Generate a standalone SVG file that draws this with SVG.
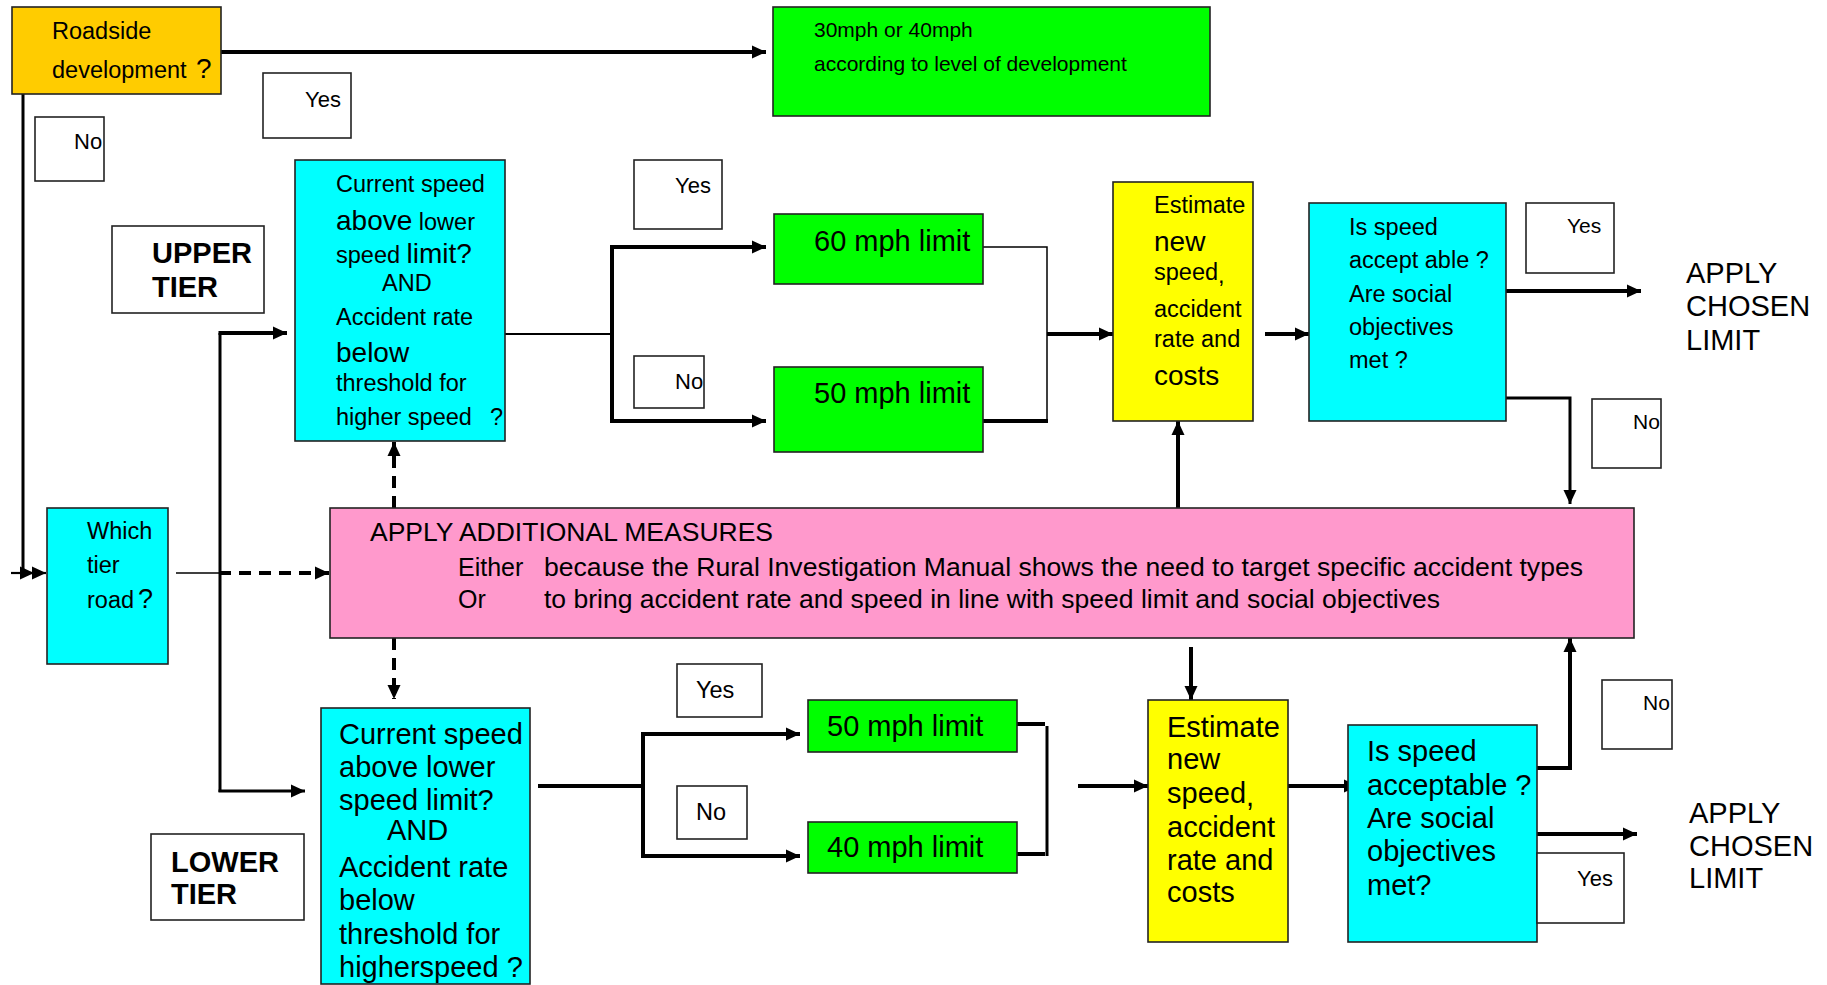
<svg xmlns="http://www.w3.org/2000/svg" width="1827" height="985" viewBox="0 0 1827 985">
<defs>
<marker id="ah" markerUnits="userSpaceOnUse" markerWidth="14" markerHeight="14" refX="14" refY="7" orient="auto"><path d="M0,0.5 L14,7 L0,13.5 z" fill="#000"/></marker>
<style>
text{font-family:"Liberation Sans",Arial,sans-serif;fill:#000}
.box{stroke:#222;stroke-width:1.6}
.or{fill:#FFCC00}.gr{fill:#00FF00}.cy{fill:#00FFFF}.ye{fill:#FFFF00}.pk{fill:#FF99CC}.wh{fill:#FFFFFF}
.s21{font-size:21px}.s22{font-size:22px}.s23{font-size:23.5px}.s28{font-size:29px}
.b{font-weight:bold}
.ln{fill:none;stroke:#000}
.t1{stroke-width:1.5}.t2{stroke-width:2.2}.t3{stroke-width:3}.t4{stroke-width:4}
.dash{stroke-dasharray:12,8}
.arr{marker-end:url(#ah)}
</style>
</defs>

<g id="connectors">
<line class="ln t4 arr" x1="221" y1="52" x2="766" y2="52"/>
<line class="ln t3" x1="23" y1="94" x2="23" y2="574"/>
<line class="ln t2 arr" x1="11" y1="573" x2="34" y2="573"/>
<line class="ln t2 arr" x1="32" y1="573" x2="46" y2="573"/>
<line class="ln t1" x1="176" y1="573" x2="219" y2="573"/>
<line class="ln t4 dash arr" x1="219" y1="573" x2="329" y2="573"/>
<line class="ln t3" x1="220" y1="333" x2="220" y2="792"/>
<line class="ln t4 arr" x1="218.5" y1="333" x2="287" y2="333"/>
<line class="ln t3 arr" x1="218.5" y1="791" x2="305" y2="791"/>
<line class="ln t4 dash arr" x1="394" y1="508" x2="394" y2="442"/>
<line class="ln t4 dash arr" x1="394" y1="638" x2="394" y2="699"/>
<line class="ln t2" x1="505" y1="334" x2="612" y2="334"/>
<line class="ln t4" x1="612" y1="245" x2="612" y2="423"/>
<line class="ln t4 arr" x1="610" y1="247" x2="766" y2="247"/>
<line class="ln t4 arr" x1="610" y1="421" x2="766" y2="421"/>
<polyline class="ln t1" points="983,247 1047,247 1047,421"/>
<line class="ln t4" x1="983" y1="421" x2="1048" y2="421"/>
<line class="ln t4 arr" x1="1047" y1="334" x2="1113" y2="334"/>
<line class="ln t4 arr" x1="1265" y1="334" x2="1309" y2="334"/>
<line class="ln t4 arr" x1="1506" y1="291" x2="1641" y2="291"/>
<polyline class="ln t3 arr" points="1506,398 1570,398 1570,504"/>
<line class="ln t4 arr" x1="1178" y1="508" x2="1178" y2="421"/>
<line class="ln t4 arr" x1="1191" y1="647" x2="1191" y2="700"/>
<line class="ln t4" x1="538" y1="786" x2="643" y2="786"/>
<line class="ln t4" x1="643" y1="732" x2="643" y2="858"/>
<line class="ln t4 arr" x1="641" y1="734" x2="800" y2="734"/>
<line class="ln t4 arr" x1="641" y1="856" x2="800" y2="856"/>
<line class="ln t4" x1="1017" y1="724" x2="1045" y2="724"/>
<line class="ln t4" x1="1017" y1="854" x2="1045" y2="854"/>
<line class="ln t3" x1="1047" y1="726" x2="1047" y2="856"/>
<line class="ln t4 arr" x1="1078" y1="786" x2="1148" y2="786"/>
<line class="ln t4 arr" x1="1287" y1="786" x2="1358" y2="786"/>
<polyline class="ln t4 arr" points="1537,768 1570,768 1570,638"/>
<line class="ln t4 arr" x1="1537" y1="834" x2="1637" y2="834"/>
</g>

<g id="roadside">
<rect class="box or" x="12" y="7" width="209" height="87"/>
<text class="s23" x="52" y="39">Roadside</text>
<text class="s23" x="52" y="78">development<tspan x="196" font-size="28">?</tspan></text>
</g>

<g id="urban-limit">
<rect class="box gr" x="773" y="7" width="437" height="109"/>
<text class="s21" x="814" y="37">30mph or 40mph</text>
<text class="s21" x="814" y="71">according  to level of development</text>
</g>

<g id="lbl-yes-1"><rect class="box wh" x="263" y="73" width="88" height="65"/><text class="s22" x="305" y="107">Yes</text></g>
<g id="lbl-no-1"><rect class="box wh" x="35" y="117" width="69" height="64"/><text class="s22" x="74" y="149">No</text></g>

<g id="upper-tier-label">
<rect class="box wh" x="112" y="226" width="152" height="87"/>
<text class="b" x="152" y="263" style="font-size:29px">UPPER</text>
<text class="b" x="152" y="297" style="font-size:29px">TIER</text>
</g>

<g id="upper-question">
<rect class="box cy" x="295" y="160" width="210" height="281"/>
<text class="s23" x="336" y="192">Current speed</text>
<text class="s23" x="336" y="230"><tspan font-size="28">above</tspan> lower</text>
<text class="s23" x="336" y="263">speed <tspan font-size="28">limit?</tspan></text>
<text class="s23" x="382" y="291">AND</text>
<text class="s23" x="336" y="325">Accident rate</text>
<text class="s23" x="336" y="362" font-size="28" style="font-size:28px">below</text>
<text class="s23" x="336" y="391">threshold for</text>
<text class="s23" x="336" y="425">higher speed<tspan x="490">?</tspan></text>
</g>

<g id="lbl-yes-2"><rect class="box wh" x="634" y="160" width="88" height="69"/><text class="s22" x="675" y="193">Yes</text></g>
<g id="lbl-no-2"><rect class="box wh" x="634" y="356" width="70" height="52"/><text class="s22" x="675" y="389">No</text></g>

<g id="limit-60"><rect class="box gr" x="774" y="214" width="209" height="70"/><text class="s28" x="814" y="251">60 mph limit</text></g>
<g id="limit-50-upper"><rect class="box gr" x="774" y="367" width="209" height="85"/><text class="s28" x="814" y="403">50 mph limit</text></g>

<g id="upper-estimate">
<rect class="box ye" x="1113" y="182" width="140" height="239"/>
<text class="s23" x="1154" y="213">Estimate</text>
<text x="1154" y="251" style="font-size:28px">new</text>
<text class="s23" x="1154" y="280">speed<tspan dy="3">,</tspan></text>
<text class="s23" x="1154" y="317">accident</text>
<text class="s23" x="1154" y="347">rate and</text>
<text x="1154" y="385" style="font-size:28px">costs</text>
</g>

<g id="upper-check">
<rect class="box cy" x="1309" y="203" width="197" height="218"/>
<text class="s23" x="1349" y="235">Is speed</text>
<text class="s23" x="1349" y="268">accept able ?</text>
<text class="s23" x="1349" y="302">Are social</text>
<text class="s23" x="1349" y="335">objectives</text>
<text class="s23" x="1349" y="368">met ?</text>
</g>

<g id="lbl-yes-3"><rect class="box wh" x="1526" y="203" width="88" height="70"/><text class="s21" x="1567" y="233">Yes</text></g>
<g id="lbl-no-3"><rect class="box wh" x="1592" y="399" width="69" height="69"/><text class="s21" x="1633" y="429">No</text></g>

<g id="apply-upper">
<text class="s28" x="1686" y="283">APPLY</text>
<text class="s28" x="1686" y="316">CHOSEN</text>
<text class="s28" x="1686" y="350">LIMIT</text>
</g>

<g id="which-tier">
<rect class="box cy" x="47" y="508" width="121" height="156"/>
<text class="s23" x="87" y="539">Which</text>
<text class="s23" x="87" y="573">tier</text>
<text class="s23" x="87" y="608">road<tspan dx="4" font-size="27">?</tspan></text>
</g>

<g id="additional-measures">
<rect class="box pk" x="330" y="508" width="1304" height="130"/>
<text x="370" y="541" style="font-size:26.5px">APPLY ADDITIONAL MEASURES</text>
<text x="458" y="576" style="font-size:25px">Either</text>
<text x="544" y="576" style="font-size:25px" textLength="1039" lengthAdjust="spacingAndGlyphs">because the Rural Investigation Manual shows the need to target specific accident types</text>
<text x="458" y="608" style="font-size:25px">Or</text>
<text x="544" y="608" style="font-size:25px" textLength="896" lengthAdjust="spacingAndGlyphs">to bring accident rate and speed in line with speed limit and social objectives</text>
</g>

<g id="lbl-yes-4"><rect class="box wh" x="677" y="664" width="85" height="53"/><text class="s23" x="696" y="698">Yes</text></g>
<g id="lbl-no-4"><rect class="box wh" x="677" y="786" width="70" height="53"/><text class="s23" x="696" y="820">No</text></g>

<g id="lower-tier-label">
<rect class="box wh" x="151" y="834" width="153" height="86"/>
<text class="s28 b" x="171" y="872">LOWER</text>
<text class="s28 b" x="171" y="904">TIER</text>
</g>

<g id="lower-question">
<rect class="box cy" x="321" y="708" width="209" height="276"/>
<text class="s28" x="339" y="744">Current speed</text>
<text class="s28" x="339" y="777">above lower</text>
<text class="s28" x="339" y="810">speed limit?</text>
<text class="s28" x="387" y="840">AND</text>
<text class="s28" x="339" y="877">Accident rate</text>
<text class="s28" x="339" y="910">below</text>
<text class="s28" x="339" y="944">threshold for</text>
<text class="s28" x="339" y="977">higherspeed ?</text>
</g>

<g id="limit-50-lower"><rect class="box gr" x="808" y="700" width="209" height="52"/><text class="s28" x="827" y="736">50 mph limit</text></g>
<g id="limit-40"><rect class="box gr" x="808" y="822" width="209" height="51"/><text class="s28" x="827" y="857">40 mph limit</text></g>

<g id="lower-estimate">
<rect class="box ye" x="1148" y="700" width="140" height="242"/>
<text class="s28" x="1167" y="737">Estimate</text>
<text class="s28" x="1167" y="769">new</text>
<text class="s28" x="1167" y="803">speed<tspan dy="3">,</tspan></text>
<text class="s28" x="1167" y="837">accident</text>
<text class="s28" x="1167" y="870">rate and</text>
<text class="s28" x="1167" y="902">costs</text>
</g>

<g id="lower-check">
<rect class="box cy" x="1348" y="725" width="189" height="217"/>
<text class="s28" x="1367" y="761">Is speed</text>
<text class="s28" x="1367" y="795">acceptable ?</text>
<text class="s28" x="1367" y="828">Are social</text>
<text class="s28" x="1367" y="861">objectives</text>
<text class="s28" x="1367" y="895">met?</text>
</g>

<g id="lbl-no-5"><rect class="box wh" x="1602" y="680" width="70" height="69"/><text class="s21" x="1643" y="710">No</text></g>
<g id="lbl-yes-5"><rect class="box wh" x="1537" y="853" width="87" height="70"/><text class="s22" x="1577" y="886">Yes</text></g>

<g id="apply-lower">
<text class="s28" x="1689" y="823">APPLY</text>
<text class="s28" x="1689" y="856">CHOSEN</text>
<text class="s28" x="1689" y="888">LIMIT</text>
</g>
</svg>
